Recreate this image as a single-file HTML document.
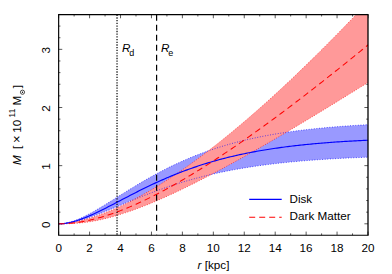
<!DOCTYPE html>
<html><head><meta charset="utf-8"><style>
html,body{margin:0;padding:0;background:#fff;}
svg{display:block;}
text{font-family:"Liberation Sans",sans-serif;font-size:11.7px;fill:#000;}
</style></head><body>
<svg width="392" height="274" viewBox="0 0 392 274">
<rect width="392" height="274" fill="#fff"/>
<clipPath id="c"><rect x="58.65" y="14.67" width="309.35" height="220.53"/></clipPath>
<path d="M58.65,235.20 v-3.60 M58.65,14.67 v3.60 M74.12,235.20 v-1.80 M74.12,14.67 v1.80 M89.59,235.20 v-3.60 M89.59,14.67 v3.60 M105.05,235.20 v-1.80 M105.05,14.67 v1.80 M120.52,235.20 v-3.60 M120.52,14.67 v3.60 M135.99,235.20 v-1.80 M135.99,14.67 v1.80 M151.46,235.20 v-3.60 M151.46,14.67 v3.60 M166.92,235.20 v-1.80 M166.92,14.67 v1.80 M182.39,235.20 v-3.60 M182.39,14.67 v3.60 M197.86,235.20 v-1.80 M197.86,14.67 v1.80 M213.33,235.20 v-3.60 M213.33,14.67 v3.60 M228.79,235.20 v-1.80 M228.79,14.67 v1.80 M244.26,235.20 v-3.60 M244.26,14.67 v3.60 M259.73,235.20 v-1.80 M259.73,14.67 v1.80 M275.19,235.20 v-3.60 M275.19,14.67 v3.60 M290.66,235.20 v-1.80 M290.66,14.67 v1.80 M306.13,235.20 v-3.60 M306.13,14.67 v3.60 M321.60,235.20 v-1.80 M321.60,14.67 v1.80 M337.06,235.20 v-3.60 M337.06,14.67 v3.60 M352.53,235.20 v-1.80 M352.53,14.67 v1.80 M368.00,235.20 v-3.60 M368.00,14.67 v3.60 M58.65,223.80 h3.60 M368.00,223.80 h-3.60 M58.65,212.17 h1.80 M368.00,212.17 h-1.80 M58.65,200.54 h1.80 M368.00,200.54 h-1.80 M58.65,188.91 h1.80 M368.00,188.91 h-1.80 M58.65,177.28 h1.80 M368.00,177.28 h-1.80 M58.65,165.65 h3.60 M368.00,165.65 h-3.60 M58.65,154.02 h1.80 M368.00,154.02 h-1.80 M58.65,142.39 h1.80 M368.00,142.39 h-1.80 M58.65,130.76 h1.80 M368.00,130.76 h-1.80 M58.65,119.13 h1.80 M368.00,119.13 h-1.80 M58.65,107.50 h3.60 M368.00,107.50 h-3.60 M58.65,95.87 h1.80 M368.00,95.87 h-1.80 M58.65,84.24 h1.80 M368.00,84.24 h-1.80 M58.65,72.61 h1.80 M368.00,72.61 h-1.80 M58.65,60.98 h1.80 M368.00,60.98 h-1.80 M58.65,49.35 h3.60 M368.00,49.35 h-3.60 M58.65,37.72 h1.80 M368.00,37.72 h-1.80 M58.65,26.09 h1.80 M368.00,26.09 h-1.80 M58.65,14.46 h1.80 M368.00,14.46 h-1.80" stroke="#000" stroke-width="0.65" fill="none"/>
<g clip-path="url(#c)">
<polygon points="58.60,223.80 60.15,223.76 61.70,223.66 63.25,223.49 64.79,223.26 66.34,222.97 67.89,222.63 69.44,222.24 70.99,221.80 72.54,221.31 74.09,220.79 75.63,220.22 77.18,219.62 78.73,218.98 80.28,218.31 81.83,217.61 83.38,216.88 84.92,216.12 86.47,215.35 88.02,214.55 89.57,213.73 91.12,212.89 92.67,212.03 94.22,211.16 95.76,210.27 97.31,209.37 98.86,208.46 100.41,207.54 101.96,206.61 103.51,205.67 105.06,204.72 106.60,203.77 108.15,202.81 109.70,201.85 111.25,200.89 112.80,199.92 114.35,198.95 115.89,197.98 117.44,197.01 118.99,196.04 120.54,195.07 122.09,194.10 123.64,193.13 125.19,192.17 126.73,191.21 128.28,190.25 129.83,189.30 131.38,188.35 132.93,187.40 134.48,186.46 136.03,185.53 137.57,184.60 139.12,183.68 140.67,182.76 142.22,181.85 143.77,180.95 145.32,180.06 146.86,179.17 148.41,178.29 149.96,177.42 151.51,176.55 153.06,175.70 154.61,174.85 156.16,174.01 157.70,173.17 159.25,172.35 160.80,171.54 162.35,170.73 163.90,169.93 165.45,169.14 167.00,168.36 168.54,167.59 170.09,166.83 171.64,166.08 173.19,165.33 174.74,164.60 176.29,163.87 177.83,163.16 179.38,162.45 180.93,161.75 182.48,161.06 184.03,160.38 185.58,159.71 187.13,159.04 188.67,158.39 190.22,157.74 191.77,157.11 193.32,156.48 194.87,155.86 196.42,155.25 197.97,154.65 199.51,154.06 201.06,153.47 202.61,152.90 204.16,152.33 205.71,151.77 207.26,151.22 208.80,150.68 210.35,150.15 211.90,149.62 213.45,149.10 215.00,148.59 216.55,148.09 218.10,147.59 219.64,147.11 221.19,146.63 222.74,146.16 224.29,145.69 225.84,145.24 227.39,144.79 228.93,144.34 230.48,143.91 232.03,143.48 233.58,143.06 235.13,142.65 236.68,142.24 238.23,141.84 239.77,141.45 241.32,141.06 242.87,140.68 244.42,140.30 245.97,139.93 247.52,139.57 249.07,139.22 250.61,138.87 252.16,138.52 253.71,138.19 255.26,137.85 256.81,137.53 258.36,137.21 259.91,136.89 261.45,136.58 263.00,136.28 264.55,135.98 266.10,135.69 267.65,135.40 269.20,135.12 270.74,134.84 272.29,134.56 273.84,134.30 275.39,134.03 276.94,133.77 278.49,133.52 280.04,133.27 281.58,133.03 283.13,132.79 284.68,132.55 286.23,132.32 287.78,132.09 289.33,131.87 290.88,131.65 292.42,131.43 293.97,131.22 295.52,131.01 297.07,130.81 298.62,130.61 300.17,130.42 301.71,130.22 303.26,130.03 304.81,129.85 306.36,129.67 307.91,129.49 309.46,129.31 311.01,129.14 312.55,128.97 314.10,128.81 315.65,128.65 317.20,128.49 318.75,128.33 320.30,128.18 321.85,128.03 323.39,127.88 324.94,127.74 326.49,127.60 328.04,127.46 329.59,127.32 331.14,127.19 332.68,127.06 334.23,126.93 335.78,126.80 337.33,126.68 338.88,126.56 340.43,126.44 341.98,126.33 343.52,126.21 345.07,126.10 346.62,125.99 348.17,125.88 349.72,125.78 351.27,125.67 352.81,125.57 354.36,125.47 355.91,125.38 357.46,125.28 359.01,125.19 360.56,125.10 362.11,125.01 363.65,124.92 365.20,124.83 366.75,124.75 368.30,124.67 368.30,157.17 366.75,157.23 365.20,157.29 363.65,157.34 362.11,157.40 360.56,157.47 359.01,157.53 357.46,157.59 355.91,157.66 354.36,157.72 352.81,157.79 351.27,157.86 349.72,157.93 348.17,158.01 346.62,158.08 345.07,158.15 343.52,158.23 341.98,158.31 340.43,158.39 338.88,158.47 337.33,158.55 335.78,158.64 334.23,158.72 332.68,158.81 331.14,158.90 329.59,158.99 328.04,159.09 326.49,159.18 324.94,159.28 323.39,159.38 321.85,159.48 320.30,159.58 318.75,159.69 317.20,159.80 315.65,159.91 314.10,160.02 312.55,160.13 311.01,160.25 309.46,160.36 307.91,160.48 306.36,160.61 304.81,160.73 303.26,160.86 301.71,160.99 300.17,161.12 298.62,161.26 297.07,161.39 295.52,161.53 293.97,161.68 292.42,161.82 290.88,161.97 289.33,162.12 287.78,162.27 286.23,162.43 284.68,162.59 283.13,162.75 281.58,162.92 280.04,163.08 278.49,163.26 276.94,163.43 275.39,163.61 273.84,163.79 272.29,163.98 270.74,164.16 269.20,164.35 267.65,164.55 266.10,164.75 264.55,164.95 263.00,165.15 261.45,165.36 259.91,165.58 258.36,165.79 256.81,166.01 255.26,166.24 253.71,166.47 252.16,166.70 250.61,166.94 249.07,167.18 247.52,167.42 245.97,167.67 244.42,167.92 242.87,168.18 241.32,168.44 239.77,168.71 238.23,168.98 236.68,169.26 235.13,169.54 233.58,169.82 232.03,170.11 230.48,170.40 228.93,170.70 227.39,171.01 225.84,171.32 224.29,171.63 222.74,171.95 221.19,172.27 219.64,172.60 218.10,172.94 216.55,173.28 215.00,173.62 213.45,173.97 211.90,174.33 210.35,174.69 208.80,175.06 207.26,175.43 205.71,175.81 204.16,176.19 202.61,176.58 201.06,176.98 199.51,177.38 197.97,177.78 196.42,178.20 194.87,178.61 193.32,179.04 191.77,179.47 190.22,179.90 188.67,180.35 187.13,180.79 185.58,181.25 184.03,181.71 182.48,182.17 180.93,182.64 179.38,183.12 177.83,183.61 176.29,184.10 174.74,184.59 173.19,185.09 171.64,185.60 170.09,186.11 168.54,186.63 167.00,187.16 165.45,187.69 163.90,188.23 162.35,188.77 160.80,189.32 159.25,189.87 157.70,190.43 156.16,191.00 154.61,191.57 153.06,192.14 151.51,192.72 149.96,193.31 148.41,193.90 146.86,194.50 145.32,195.10 143.77,195.70 142.22,196.31 140.67,196.92 139.12,197.54 137.57,198.16 136.03,198.79 134.48,199.41 132.93,200.04 131.38,200.68 129.83,201.31 128.28,201.95 126.73,202.59 125.19,203.24 123.64,203.88 122.09,204.52 120.54,205.17 118.99,205.81 117.44,206.46 115.89,207.10 114.35,207.75 112.80,208.39 111.25,209.03 109.70,209.67 108.15,210.30 106.60,210.93 105.06,211.56 103.51,212.18 101.96,212.79 100.41,213.40 98.86,214.00 97.31,214.60 95.76,215.18 94.22,215.76 92.67,216.32 91.12,216.87 89.57,217.42 88.02,217.95 86.47,218.46 84.92,218.96 83.38,219.44 81.83,219.91 80.28,220.35 78.73,220.78 77.18,221.18 75.63,221.56 74.09,221.92 72.54,222.25 70.99,222.56 69.44,222.83 67.89,223.08 66.34,223.29 64.79,223.47 63.25,223.61 61.70,223.71 60.15,223.78 58.60,223.80" fill="#9999ff"/>
<polygon points="58.60,223.80 60.15,223.76 61.70,223.68 63.25,223.57 64.79,223.42 66.34,223.25 67.89,223.06 69.44,222.83 70.99,222.59 72.54,222.33 74.09,222.04 75.63,221.74 77.18,221.41 78.73,221.07 80.28,220.71 81.83,220.33 83.38,219.94 84.92,219.52 86.47,219.10 88.02,218.65 89.57,218.19 91.12,217.72 92.67,217.23 94.22,216.73 95.76,216.21 97.31,215.68 98.86,215.13 100.41,214.57 101.96,214.00 103.51,213.41 105.06,212.81 106.60,212.20 108.15,211.58 109.70,210.94 111.25,210.30 112.80,209.64 114.35,208.97 115.89,208.28 117.44,207.59 118.99,206.88 120.54,206.17 122.09,205.44 123.64,204.70 125.19,203.95 126.73,203.19 128.28,202.42 129.83,201.64 131.38,200.85 132.93,200.05 134.48,199.24 136.03,198.42 137.57,197.59 139.12,196.75 140.67,195.90 142.22,195.04 143.77,194.17 145.32,193.30 146.86,192.41 148.41,191.51 149.96,190.61 151.51,189.70 153.06,188.78 154.61,187.85 156.16,186.91 157.70,185.96 159.25,185.01 160.80,184.04 162.35,183.07 163.90,182.09 165.45,181.10 167.00,180.11 168.54,179.10 170.09,178.09 171.64,177.07 173.19,176.04 174.74,175.01 176.29,173.97 177.83,172.92 179.38,171.86 180.93,170.79 182.48,169.72 184.03,168.64 185.58,167.56 187.13,166.46 188.67,165.36 190.22,164.26 191.77,163.14 193.32,162.02 194.87,160.89 196.42,159.76 197.97,158.62 199.51,157.47 201.06,156.32 202.61,155.16 204.16,153.99 205.71,152.81 207.26,151.63 208.80,150.45 210.35,149.26 211.90,148.06 213.45,146.85 215.00,145.64 216.55,144.42 218.10,143.20 219.64,141.97 221.19,140.74 222.74,139.50 224.29,138.25 225.84,137.00 227.39,135.74 228.93,134.48 230.48,133.21 232.03,131.93 233.58,130.65 235.13,129.36 236.68,128.07 238.23,126.78 239.77,125.47 241.32,124.17 242.87,122.85 244.42,121.53 245.97,120.21 247.52,118.88 249.07,117.55 250.61,116.21 252.16,114.86 253.71,113.52 255.26,112.16 256.81,110.80 258.36,109.44 259.91,108.07 261.45,106.69 263.00,105.31 264.55,103.93 266.10,102.54 267.65,101.15 269.20,99.75 270.74,98.35 272.29,96.94 273.84,95.53 275.39,94.11 276.94,92.69 278.49,91.27 280.04,89.84 281.58,88.40 283.13,86.96 284.68,85.52 286.23,84.07 287.78,82.62 289.33,81.16 290.88,79.70 292.42,78.23 293.97,76.77 295.52,75.29 297.07,73.81 298.62,72.33 300.17,70.85 301.71,69.36 303.26,67.86 304.81,66.36 306.36,64.86 307.91,63.35 309.46,61.84 311.01,60.33 312.55,58.81 314.10,57.29 315.65,55.76 317.20,54.23 318.75,52.70 320.30,51.16 321.85,49.62 323.39,48.07 324.94,46.52 326.49,44.97 328.04,43.41 329.59,41.85 331.14,40.29 332.68,38.72 334.23,37.15 335.78,35.58 337.33,34.00 338.88,32.42 340.43,30.83 341.98,29.24 343.52,27.65 345.07,26.05 346.62,24.46 348.17,22.85 349.72,21.25 351.27,19.64 352.81,18.02 354.36,16.41 355.91,14.79 357.46,13.17 359.01,11.54 360.56,9.91 362.11,8.28 363.65,6.64 365.20,5.00 366.75,3.36 368.30,1.71 368.30,82.26 366.75,83.23 365.20,84.19 363.65,85.16 362.11,86.13 360.56,87.09 359.01,88.06 357.46,89.02 355.91,89.99 354.36,90.95 352.81,91.91 351.27,92.87 349.72,93.83 348.17,94.79 346.62,95.75 345.07,96.71 343.52,97.66 341.98,98.62 340.43,99.57 338.88,100.53 337.33,101.48 335.78,102.43 334.23,103.38 332.68,104.34 331.14,105.28 329.59,106.23 328.04,107.18 326.49,108.13 324.94,109.07 323.39,110.02 321.85,110.96 320.30,111.90 318.75,112.84 317.20,113.78 315.65,114.72 314.10,115.66 312.55,116.60 311.01,117.53 309.46,118.47 307.91,119.40 306.36,120.33 304.81,121.26 303.26,122.19 301.71,123.12 300.17,124.05 298.62,124.98 297.07,125.90 295.52,126.82 293.97,127.75 292.42,128.67 290.88,129.59 289.33,130.51 287.78,131.42 286.23,132.34 284.68,133.25 283.13,134.16 281.58,135.08 280.04,135.99 278.49,136.89 276.94,137.80 275.39,138.71 273.84,139.61 272.29,140.51 270.74,141.41 269.20,142.31 267.65,143.21 266.10,144.10 264.55,145.00 263.00,145.89 261.45,146.78 259.91,147.67 258.36,148.55 256.81,149.44 255.26,150.32 253.71,151.20 252.16,152.08 250.61,152.96 249.07,153.83 247.52,154.71 245.97,155.58 244.42,156.45 242.87,157.31 241.32,158.18 239.77,159.04 238.23,159.90 236.68,160.76 235.13,161.61 233.58,162.47 232.03,163.32 230.48,164.17 228.93,165.01 227.39,165.86 225.84,166.70 224.29,167.54 222.74,168.37 221.19,169.21 219.64,170.04 218.10,170.86 216.55,171.69 215.00,172.51 213.45,173.33 211.90,174.15 210.35,174.96 208.80,175.77 207.26,176.58 205.71,177.38 204.16,178.18 202.61,178.98 201.06,179.77 199.51,180.57 197.97,181.35 196.42,182.14 194.87,182.92 193.32,183.69 191.77,184.47 190.22,185.24 188.67,186.00 187.13,186.76 185.58,187.52 184.03,188.27 182.48,189.02 180.93,189.77 179.38,190.51 177.83,191.24 176.29,191.97 174.74,192.70 173.19,193.42 171.64,194.14 170.09,194.85 168.54,195.56 167.00,196.26 165.45,196.96 163.90,197.65 162.35,198.34 160.80,199.02 159.25,199.70 157.70,200.37 156.16,201.03 154.61,201.69 153.06,202.34 151.51,202.99 149.96,203.63 148.41,204.26 146.86,204.88 145.32,205.50 143.77,206.12 142.22,206.72 140.67,207.32 139.12,207.91 137.57,208.49 136.03,209.07 134.48,209.64 132.93,210.20 131.38,210.75 129.83,211.29 128.28,211.82 126.73,212.35 125.19,212.87 123.64,213.37 122.09,213.87 120.54,214.36 118.99,214.84 117.44,215.31 115.89,215.76 114.35,216.21 112.80,216.65 111.25,217.08 109.70,217.49 108.15,217.89 106.60,218.29 105.06,218.66 103.51,219.03 101.96,219.39 100.41,219.73 98.86,220.06 97.31,220.38 95.76,220.68 94.22,220.97 92.67,221.25 91.12,221.51 89.57,221.76 88.02,221.99 86.47,222.21 84.92,222.42 83.38,222.61 81.83,222.78 80.28,222.94 78.73,223.09 77.18,223.22 75.63,223.33 74.09,223.44 72.54,223.52 70.99,223.60 69.44,223.66 67.89,223.71 66.34,223.74 64.79,223.77 63.25,223.79 61.70,223.80 60.15,223.80 58.60,223.80" fill="#ff9999"/>
<path d="M58.60,223.80 L60.15,223.76 L61.70,223.66 L63.25,223.49 L64.79,223.26 L66.34,222.97 L67.89,222.63 L69.44,222.24 L70.99,221.80 L72.54,221.31 L74.09,220.79 L75.63,220.22 L77.18,219.62 L78.73,218.98 L80.28,218.31 L81.83,217.61 L83.38,216.88 L84.92,216.12 L86.47,215.35 L88.02,214.55 L89.57,213.73 L91.12,212.89 L92.67,212.03 L94.22,211.16 L95.76,210.27 L97.31,209.37 L98.86,208.46 L100.41,207.54 L101.96,206.61 L103.51,205.67 L105.06,204.72 L106.60,203.77 L108.15,202.81 L109.70,201.85 L111.25,200.89 L112.80,199.92 L114.35,198.95 L115.89,197.98 L117.44,197.01 L118.99,196.04 L120.54,195.07 L122.09,194.10 L123.64,193.13 L125.19,192.17 L126.73,191.21 L128.28,190.25 L129.83,189.30 L131.38,188.35 L132.93,187.40 L134.48,186.46 L136.03,185.53 L137.57,184.60 L139.12,183.68 L140.67,182.76 L142.22,181.85 L143.77,180.95 L145.32,180.06 L146.86,179.17 L148.41,178.29 L149.96,177.42 L151.51,176.55 L153.06,175.70 L154.61,174.85 L156.16,174.01 L157.70,173.17 L159.25,172.35 L160.80,171.54 L162.35,170.73 L163.90,169.93 L165.45,169.14 L167.00,168.36 L168.54,167.59 L170.09,166.83 L171.64,166.08 L173.19,165.33 L174.74,164.60 L176.29,163.87 L177.83,163.16 L179.38,162.45 L180.93,161.75 L182.48,161.06 L184.03,160.38 L185.58,159.71 L187.13,159.04 L188.67,158.39 L190.22,157.74 L191.77,157.11 L193.32,156.48 L194.87,155.86 L196.42,155.25 L197.97,154.65 L199.51,154.06 L201.06,153.47 L202.61,152.90 L204.16,152.33 L205.71,151.77 L207.26,151.22 L208.80,150.68 L210.35,150.15 L211.90,149.62 L213.45,149.10 L215.00,148.59 L216.55,148.09 L218.10,147.59 L219.64,147.11 L221.19,146.63 L222.74,146.16 L224.29,145.69 L225.84,145.24 L227.39,144.79 L228.93,144.34 L230.48,143.91 L232.03,143.48 L233.58,143.06 L235.13,142.65 L236.68,142.24 L238.23,141.84 L239.77,141.45 L241.32,141.06 L242.87,140.68 L244.42,140.30 L245.97,139.93 L247.52,139.57 L249.07,139.22 L250.61,138.87 L252.16,138.52 L253.71,138.19 L255.26,137.85 L256.81,137.53 L258.36,137.21 L259.91,136.89 L261.45,136.58 L263.00,136.28 L264.55,135.98 L266.10,135.69 L267.65,135.40 L269.20,135.12 L270.74,134.84 L272.29,134.56 L273.84,134.30 L275.39,134.03 L276.94,133.77 L278.49,133.52 L280.04,133.27 L281.58,133.03 L283.13,132.79 L284.68,132.55 L286.23,132.32 L287.78,132.09 L289.33,131.87 L290.88,131.65 L292.42,131.43 L293.97,131.22 L295.52,131.01 L297.07,130.81 L298.62,130.61 L300.17,130.42 L301.71,130.22 L303.26,130.03 L304.81,129.85 L306.36,129.67 L307.91,129.49 L309.46,129.31 L311.01,129.14 L312.55,128.97 L314.10,128.81 L315.65,128.65 L317.20,128.49 L318.75,128.33 L320.30,128.18 L321.85,128.03 L323.39,127.88 L324.94,127.74 L326.49,127.60 L328.04,127.46 L329.59,127.32 L331.14,127.19 L332.68,127.06 L334.23,126.93 L335.78,126.80 L337.33,126.68 L338.88,126.56 L340.43,126.44 L341.98,126.33 L343.52,126.21 L345.07,126.10 L346.62,125.99 L348.17,125.88 L349.72,125.78 L351.27,125.67 L352.81,125.57 L354.36,125.47 L355.91,125.38 L357.46,125.28 L359.01,125.19 L360.56,125.10 L362.11,125.01 L363.65,124.92 L365.20,124.83 L366.75,124.75 L368.30,124.67" fill="none" stroke="#0000ff" stroke-width="0.8" stroke-dasharray="0.9 1.7" stroke-opacity="0.85"/>
<path d="M58.60,223.80 L60.15,223.78 L61.70,223.71 L63.25,223.61 L64.79,223.47 L66.34,223.29 L67.89,223.08 L69.44,222.83 L70.99,222.56 L72.54,222.25 L74.09,221.92 L75.63,221.56 L77.18,221.18 L78.73,220.78 L80.28,220.35 L81.83,219.91 L83.38,219.44 L84.92,218.96 L86.47,218.46 L88.02,217.95 L89.57,217.42 L91.12,216.87 L92.67,216.32 L94.22,215.76 L95.76,215.18 L97.31,214.60 L98.86,214.00 L100.41,213.40 L101.96,212.79 L103.51,212.18 L105.06,211.56 L106.60,210.93 L108.15,210.30 L109.70,209.67 L111.25,209.03 L112.80,208.39 L114.35,207.75 L115.89,207.10 L117.44,206.46 L118.99,205.81 L120.54,205.17 L122.09,204.52 L123.64,203.88 L125.19,203.24 L126.73,202.59 L128.28,201.95 L129.83,201.31 L131.38,200.68 L132.93,200.04 L134.48,199.41 L136.03,198.79 L137.57,198.16 L139.12,197.54 L140.67,196.92 L142.22,196.31 L143.77,195.70 L145.32,195.10 L146.86,194.50 L148.41,193.90 L149.96,193.31 L151.51,192.72 L153.06,192.14 L154.61,191.57 L156.16,191.00 L157.70,190.43 L159.25,189.87 L160.80,189.32 L162.35,188.77 L163.90,188.23 L165.45,187.69 L167.00,187.16 L168.54,186.63 L170.09,186.11 L171.64,185.60 L173.19,185.09 L174.74,184.59 L176.29,184.10 L177.83,183.61 L179.38,183.12 L180.93,182.64 L182.48,182.17 L184.03,181.71 L185.58,181.25 L187.13,180.79 L188.67,180.35 L190.22,179.90 L191.77,179.47 L193.32,179.04 L194.87,178.61 L196.42,178.20 L197.97,177.78 L199.51,177.38 L201.06,176.98 L202.61,176.58 L204.16,176.19 L205.71,175.81 L207.26,175.43 L208.80,175.06 L210.35,174.69 L211.90,174.33 L213.45,173.97 L215.00,173.62 L216.55,173.28 L218.10,172.94 L219.64,172.60 L221.19,172.27 L222.74,171.95 L224.29,171.63 L225.84,171.32 L227.39,171.01 L228.93,170.70 L230.48,170.40 L232.03,170.11 L233.58,169.82 L235.13,169.54 L236.68,169.26 L238.23,168.98 L239.77,168.71 L241.32,168.44 L242.87,168.18 L244.42,167.92 L245.97,167.67 L247.52,167.42 L249.07,167.18 L250.61,166.94 L252.16,166.70 L253.71,166.47 L255.26,166.24 L256.81,166.01 L258.36,165.79 L259.91,165.58 L261.45,165.36 L263.00,165.15 L264.55,164.95 L266.10,164.75 L267.65,164.55 L269.20,164.35 L270.74,164.16 L272.29,163.98 L273.84,163.79 L275.39,163.61 L276.94,163.43 L278.49,163.26 L280.04,163.08 L281.58,162.92 L283.13,162.75 L284.68,162.59 L286.23,162.43 L287.78,162.27 L289.33,162.12 L290.88,161.97 L292.42,161.82 L293.97,161.68 L295.52,161.53 L297.07,161.39 L298.62,161.26 L300.17,161.12 L301.71,160.99 L303.26,160.86 L304.81,160.73 L306.36,160.61 L307.91,160.48 L309.46,160.36 L311.01,160.25 L312.55,160.13 L314.10,160.02 L315.65,159.91 L317.20,159.80 L318.75,159.69 L320.30,159.58 L321.85,159.48 L323.39,159.38 L324.94,159.28 L326.49,159.18 L328.04,159.09 L329.59,158.99 L331.14,158.90 L332.68,158.81 L334.23,158.72 L335.78,158.64 L337.33,158.55 L338.88,158.47 L340.43,158.39 L341.98,158.31 L343.52,158.23 L345.07,158.15 L346.62,158.08 L348.17,158.01 L349.72,157.93 L351.27,157.86 L352.81,157.79 L354.36,157.72 L355.91,157.66 L357.46,157.59 L359.01,157.53 L360.56,157.47 L362.11,157.40 L363.65,157.34 L365.20,157.29 L366.75,157.23 L368.30,157.17" fill="none" stroke="#0000ff" stroke-width="0.8" stroke-dasharray="0.9 1.7" stroke-opacity="0.85"/>
<path d="M58.60,223.80 L60.15,223.76 L61.70,223.68 L63.25,223.57 L64.79,223.42 L66.34,223.25 L67.89,223.06 L69.44,222.83 L70.99,222.59 L72.54,222.33 L74.09,222.04 L75.63,221.74 L77.18,221.41 L78.73,221.07 L80.28,220.71 L81.83,220.33 L83.38,219.94 L84.92,219.52 L86.47,219.10 L88.02,218.65 L89.57,218.19 L91.12,217.72 L92.67,217.23 L94.22,216.73 L95.76,216.21 L97.31,215.68 L98.86,215.13 L100.41,214.57 L101.96,214.00 L103.51,213.41 L105.06,212.81 L106.60,212.20 L108.15,211.58 L109.70,210.94 L111.25,210.30 L112.80,209.64 L114.35,208.97 L115.89,208.28 L117.44,207.59 L118.99,206.88 L120.54,206.17 L122.09,205.44 L123.64,204.70 L125.19,203.95 L126.73,203.19 L128.28,202.42 L129.83,201.64 L131.38,200.85 L132.93,200.05 L134.48,199.24 L136.03,198.42 L137.57,197.59 L139.12,196.75 L140.67,195.90 L142.22,195.04 L143.77,194.17 L145.32,193.30 L146.86,192.41 L148.41,191.51 L149.96,190.61 L151.51,189.70 L153.06,188.78 L154.61,187.85 L156.16,186.91 L157.70,185.96 L159.25,185.01 L160.80,184.04 L162.35,183.07 L163.90,182.09 L165.45,181.10 L167.00,180.11 L168.54,179.10 L170.09,178.09 L171.64,177.07 L173.19,176.04 L174.74,175.01 L176.29,173.97 L177.83,172.92 L179.38,171.86 L180.93,170.79 L182.48,169.72 L184.03,168.64 L185.58,167.56 L187.13,166.46 L188.67,165.36 L190.22,164.26 L191.77,163.14 L193.32,162.02 L194.87,160.89 L196.42,159.76 L197.97,158.62 L199.51,157.47 L201.06,156.32 L202.61,155.16 L204.16,153.99 L205.71,152.81 L207.26,151.63 L208.80,150.45 L210.35,149.26 L211.90,148.06 L213.45,146.85 L215.00,145.64 L216.55,144.42 L218.10,143.20 L219.64,141.97 L221.19,140.74 L222.74,139.50 L224.29,138.25 L225.84,137.00 L227.39,135.74 L228.93,134.48 L230.48,133.21 L232.03,131.93 L233.58,130.65 L235.13,129.36 L236.68,128.07 L238.23,126.78 L239.77,125.47 L241.32,124.17 L242.87,122.85 L244.42,121.53 L245.97,120.21 L247.52,118.88 L249.07,117.55 L250.61,116.21 L252.16,114.86 L253.71,113.52 L255.26,112.16 L256.81,110.80 L258.36,109.44 L259.91,108.07 L261.45,106.69 L263.00,105.31 L264.55,103.93 L266.10,102.54 L267.65,101.15 L269.20,99.75 L270.74,98.35 L272.29,96.94 L273.84,95.53 L275.39,94.11 L276.94,92.69 L278.49,91.27 L280.04,89.84 L281.58,88.40 L283.13,86.96 L284.68,85.52 L286.23,84.07 L287.78,82.62 L289.33,81.16 L290.88,79.70 L292.42,78.23 L293.97,76.77 L295.52,75.29 L297.07,73.81 L298.62,72.33 L300.17,70.85 L301.71,69.36 L303.26,67.86 L304.81,66.36 L306.36,64.86 L307.91,63.35 L309.46,61.84 L311.01,60.33 L312.55,58.81 L314.10,57.29 L315.65,55.76 L317.20,54.23 L318.75,52.70 L320.30,51.16 L321.85,49.62 L323.39,48.07 L324.94,46.52 L326.49,44.97 L328.04,43.41 L329.59,41.85 L331.14,40.29 L332.68,38.72 L334.23,37.15 L335.78,35.58 L337.33,34.00 L338.88,32.42 L340.43,30.83 L341.98,29.24 L343.52,27.65 L345.07,26.05 L346.62,24.46 L348.17,22.85 L349.72,21.25 L351.27,19.64 L352.81,18.02 L354.36,16.41 L355.91,14.79 L357.46,13.17 L359.01,11.54 L360.56,9.91 L362.11,8.28 L363.65,6.64 L365.20,5.00 L366.75,3.36 L368.30,1.71" fill="none" stroke="#ff0000" stroke-width="0.8" stroke-dasharray="0.9 1.7" stroke-opacity="0.85"/>
<path d="M58.60,223.80 L60.15,223.80 L61.70,223.80 L63.25,223.79 L64.79,223.77 L66.34,223.74 L67.89,223.71 L69.44,223.66 L70.99,223.60 L72.54,223.52 L74.09,223.44 L75.63,223.33 L77.18,223.22 L78.73,223.09 L80.28,222.94 L81.83,222.78 L83.38,222.61 L84.92,222.42 L86.47,222.21 L88.02,221.99 L89.57,221.76 L91.12,221.51 L92.67,221.25 L94.22,220.97 L95.76,220.68 L97.31,220.38 L98.86,220.06 L100.41,219.73 L101.96,219.39 L103.51,219.03 L105.06,218.66 L106.60,218.29 L108.15,217.89 L109.70,217.49 L111.25,217.08 L112.80,216.65 L114.35,216.21 L115.89,215.76 L117.44,215.31 L118.99,214.84 L120.54,214.36 L122.09,213.87 L123.64,213.37 L125.19,212.87 L126.73,212.35 L128.28,211.82 L129.83,211.29 L131.38,210.75 L132.93,210.20 L134.48,209.64 L136.03,209.07 L137.57,208.49 L139.12,207.91 L140.67,207.32 L142.22,206.72 L143.77,206.12 L145.32,205.50 L146.86,204.88 L148.41,204.26 L149.96,203.63 L151.51,202.99 L153.06,202.34 L154.61,201.69 L156.16,201.03 L157.70,200.37 L159.25,199.70 L160.80,199.02 L162.35,198.34 L163.90,197.65 L165.45,196.96 L167.00,196.26 L168.54,195.56 L170.09,194.85 L171.64,194.14 L173.19,193.42 L174.74,192.70 L176.29,191.97 L177.83,191.24 L179.38,190.51 L180.93,189.77 L182.48,189.02 L184.03,188.27 L185.58,187.52 L187.13,186.76 L188.67,186.00 L190.22,185.24 L191.77,184.47 L193.32,183.69 L194.87,182.92 L196.42,182.14 L197.97,181.35 L199.51,180.57 L201.06,179.77 L202.61,178.98 L204.16,178.18 L205.71,177.38 L207.26,176.58 L208.80,175.77 L210.35,174.96 L211.90,174.15 L213.45,173.33 L215.00,172.51 L216.55,171.69 L218.10,170.86 L219.64,170.04 L221.19,169.21 L222.74,168.37 L224.29,167.54 L225.84,166.70 L227.39,165.86 L228.93,165.01 L230.48,164.17 L232.03,163.32 L233.58,162.47 L235.13,161.61 L236.68,160.76 L238.23,159.90 L239.77,159.04 L241.32,158.18 L242.87,157.31 L244.42,156.45 L245.97,155.58 L247.52,154.71 L249.07,153.83 L250.61,152.96 L252.16,152.08 L253.71,151.20 L255.26,150.32 L256.81,149.44 L258.36,148.55 L259.91,147.67 L261.45,146.78 L263.00,145.89 L264.55,145.00 L266.10,144.10 L267.65,143.21 L269.20,142.31 L270.74,141.41 L272.29,140.51 L273.84,139.61 L275.39,138.71 L276.94,137.80 L278.49,136.89 L280.04,135.99 L281.58,135.08 L283.13,134.16 L284.68,133.25 L286.23,132.34 L287.78,131.42 L289.33,130.51 L290.88,129.59 L292.42,128.67 L293.97,127.75 L295.52,126.82 L297.07,125.90 L298.62,124.98 L300.17,124.05 L301.71,123.12 L303.26,122.19 L304.81,121.26 L306.36,120.33 L307.91,119.40 L309.46,118.47 L311.01,117.53 L312.55,116.60 L314.10,115.66 L315.65,114.72 L317.20,113.78 L318.75,112.84 L320.30,111.90 L321.85,110.96 L323.39,110.02 L324.94,109.07 L326.49,108.13 L328.04,107.18 L329.59,106.23 L331.14,105.28 L332.68,104.34 L334.23,103.38 L335.78,102.43 L337.33,101.48 L338.88,100.53 L340.43,99.57 L341.98,98.62 L343.52,97.66 L345.07,96.71 L346.62,95.75 L348.17,94.79 L349.72,93.83 L351.27,92.87 L352.81,91.91 L354.36,90.95 L355.91,89.99 L357.46,89.02 L359.01,88.06 L360.56,87.09 L362.11,86.13 L363.65,85.16 L365.20,84.19 L366.75,83.23 L368.30,82.26" fill="none" stroke="#ff0000" stroke-width="0.8" stroke-dasharray="0.9 1.7" stroke-opacity="0.85"/>
<path d="M58.60,223.80 L60.15,223.77 L61.70,223.69 L63.25,223.56 L64.79,223.38 L66.34,223.16 L67.89,222.89 L69.44,222.59 L70.99,222.24 L72.54,221.86 L74.09,221.44 L75.63,220.99 L77.18,220.52 L78.73,220.01 L80.28,219.47 L81.83,218.91 L83.38,218.33 L84.92,217.73 L86.47,217.10 L88.02,216.45 L89.57,215.79 L91.12,215.11 L92.67,214.42 L94.22,213.71 L95.76,212.98 L97.31,212.25 L98.86,211.51 L100.41,210.75 L101.96,209.99 L103.51,209.22 L105.06,208.44 L106.60,207.65 L108.15,206.86 L109.70,206.07 L111.25,205.27 L112.80,204.46 L114.35,203.66 L115.89,202.85 L117.44,202.04 L118.99,201.23 L120.54,200.42 L122.09,199.61 L123.64,198.81 L125.19,198.00 L126.73,197.19 L128.28,196.39 L129.83,195.59 L131.38,194.79 L132.93,193.99 L134.48,193.20 L136.03,192.41 L137.57,191.63 L139.12,190.85 L140.67,190.08 L142.22,189.31 L143.77,188.54 L145.32,187.79 L146.86,187.03 L148.41,186.29 L149.96,185.54 L151.51,184.81 L153.06,184.08 L154.61,183.36 L156.16,182.64 L157.70,181.93 L159.25,181.23 L160.80,180.54 L162.35,179.85 L163.90,179.17 L165.45,178.49 L167.00,177.83 L168.54,177.17 L170.09,176.52 L171.64,175.87 L173.19,175.23 L174.74,174.60 L176.29,173.98 L177.83,173.37 L179.38,172.76 L180.93,172.16 L182.48,171.57 L184.03,170.99 L185.58,170.41 L187.13,169.84 L188.67,169.28 L190.22,168.72 L191.77,168.18 L193.32,167.64 L194.87,167.10 L196.42,166.58 L197.97,166.06 L199.51,165.55 L201.06,165.05 L202.61,164.55 L204.16,164.07 L205.71,163.58 L207.26,163.11 L208.80,162.64 L210.35,162.18 L211.90,161.73 L213.45,161.28 L215.00,160.84 L216.55,160.41 L218.10,159.98 L219.64,159.56 L221.19,159.15 L222.74,158.74 L224.29,158.34 L225.84,157.95 L227.39,157.56 L228.93,157.18 L230.48,156.80 L232.03,156.44 L233.58,156.07 L235.13,155.72 L236.68,155.36 L238.23,155.02 L239.77,154.68 L241.32,154.34 L242.87,154.01 L244.42,153.69 L245.97,153.37 L247.52,153.06 L249.07,152.75 L250.61,152.45 L252.16,152.16 L253.71,151.86 L255.26,151.58 L256.81,151.30 L258.36,151.02 L259.91,150.75 L261.45,150.48 L263.00,150.22 L264.55,149.96 L266.10,149.71 L267.65,149.46 L269.20,149.21 L270.74,148.97 L272.29,148.74 L273.84,148.51 L275.39,148.28 L276.94,148.06 L278.49,147.84 L280.04,147.62 L281.58,147.41 L283.13,147.20 L284.68,147.00 L286.23,146.80 L287.78,146.60 L289.33,146.41 L290.88,146.22 L292.42,146.03 L293.97,145.85 L295.52,145.67 L297.07,145.50 L298.62,145.32 L300.17,145.16 L301.71,144.99 L303.26,144.83 L304.81,144.67 L306.36,144.51 L307.91,144.36 L309.46,144.21 L311.01,144.06 L312.55,143.91 L314.10,143.77 L315.65,143.63 L317.20,143.49 L318.75,143.36 L320.30,143.23 L321.85,143.10 L323.39,142.97 L324.94,142.85 L326.49,142.73 L328.04,142.61 L329.59,142.49 L331.14,142.37 L332.68,142.26 L334.23,142.15 L335.78,142.04 L337.33,141.94 L338.88,141.83 L340.43,141.73 L341.98,141.63 L343.52,141.53 L345.07,141.43 L346.62,141.34 L348.17,141.25 L349.72,141.16 L351.27,141.07 L352.81,140.98 L354.36,140.90 L355.91,140.81 L357.46,140.73 L359.01,140.65 L360.56,140.57 L362.11,140.49 L363.65,140.42 L365.20,140.34 L366.75,140.27 L368.30,140.20" fill="none" stroke="#0000ff" stroke-width="1.15"/>
<path d="M58.60,223.80 L60.15,223.79 L61.70,223.76 L63.25,223.72 L64.79,223.65 L66.34,223.56 L67.89,223.46 L69.44,223.33 L70.99,223.19 L72.54,223.03 L74.09,222.86 L75.63,222.66 L77.18,222.45 L78.73,222.22 L80.28,221.98 L81.83,221.71 L83.38,221.44 L84.92,221.14 L86.47,220.83 L88.02,220.51 L89.57,220.17 L91.12,219.82 L92.67,219.45 L94.22,219.07 L95.76,218.67 L97.31,218.26 L98.86,217.84 L100.41,217.40 L101.96,216.95 L103.51,216.49 L105.06,216.01 L106.60,215.52 L108.15,215.03 L109.70,214.51 L111.25,213.99 L112.80,213.46 L114.35,212.91 L115.89,212.35 L117.44,211.79 L118.99,211.21 L120.54,210.62 L122.09,210.02 L123.64,209.41 L125.19,208.79 L126.73,208.16 L128.28,207.52 L129.83,206.87 L131.38,206.21 L132.93,205.54 L134.48,204.86 L136.03,204.18 L137.57,203.48 L139.12,202.78 L140.67,202.06 L142.22,201.34 L143.77,200.61 L145.32,199.88 L146.86,199.13 L148.41,198.38 L149.96,197.61 L151.51,196.84 L153.06,196.07 L154.61,195.28 L156.16,194.49 L157.70,193.69 L159.25,192.88 L160.80,192.07 L162.35,191.25 L163.90,190.42 L165.45,189.59 L167.00,188.75 L168.54,187.90 L170.09,187.05 L171.64,186.19 L173.19,185.32 L174.74,184.45 L176.29,183.57 L177.83,182.68 L179.38,181.79 L180.93,180.89 L182.48,179.99 L184.03,179.08 L185.58,178.17 L187.13,177.25 L188.67,176.32 L190.22,175.39 L191.77,174.46 L193.32,173.52 L194.87,172.57 L196.42,171.62 L197.97,170.66 L199.51,169.70 L201.06,168.73 L202.61,167.76 L204.16,166.79 L205.71,165.80 L207.26,164.82 L208.80,163.83 L210.35,162.83 L211.90,161.83 L213.45,160.83 L215.00,159.82 L216.55,158.81 L218.10,157.79 L219.64,156.77 L221.19,155.75 L222.74,154.72 L224.29,153.68 L225.84,152.64 L227.39,151.60 L228.93,150.56 L230.48,149.51 L232.03,148.45 L233.58,147.40 L235.13,146.34 L236.68,145.27 L238.23,144.20 L239.77,143.13 L241.32,142.06 L242.87,140.98 L244.42,139.89 L245.97,138.81 L247.52,137.72 L249.07,136.63 L250.61,135.53 L252.16,134.43 L253.71,133.33 L255.26,132.22 L256.81,131.11 L258.36,130.00 L259.91,128.89 L261.45,127.77 L263.00,126.65 L264.55,125.52 L266.10,124.39 L267.65,123.26 L269.20,122.13 L270.74,120.99 L272.29,119.85 L273.84,118.71 L275.39,117.57 L276.94,116.42 L278.49,115.27 L280.04,114.12 L281.58,112.96 L283.13,111.80 L284.68,110.64 L286.23,109.48 L287.78,108.31 L289.33,107.14 L290.88,105.97 L292.42,104.80 L293.97,103.62 L295.52,102.44 L297.07,101.26 L298.62,100.08 L300.17,98.89 L301.71,97.71 L303.26,96.52 L304.81,95.32 L306.36,94.13 L307.91,92.93 L309.46,91.73 L311.01,90.53 L312.55,89.33 L314.10,88.12 L315.65,86.91 L317.20,85.70 L318.75,84.49 L320.30,83.28 L321.85,82.06 L323.39,80.84 L324.94,79.62 L326.49,78.40 L328.04,77.18 L329.59,75.95 L331.14,74.72 L332.68,73.49 L334.23,72.26 L335.78,71.02 L337.33,69.79 L338.88,68.55 L340.43,67.31 L341.98,66.07 L343.52,64.83 L345.07,63.58 L346.62,62.34 L348.17,61.09 L349.72,59.84 L351.27,58.59 L352.81,57.33 L354.36,56.08 L355.91,54.82 L357.46,53.56 L359.01,52.30 L360.56,51.04 L362.11,49.78 L363.65,48.51 L365.20,47.25 L366.75,45.98 L368.30,44.71" fill="none" stroke="#ff0000" stroke-width="1.05" stroke-dasharray="6 4"/>
<line x1="117.03" y1="14.67" x2="117.03" y2="235.2" stroke="#000" stroke-width="1.2" stroke-dasharray="1.3 1.4"/>
<line x1="156.6" y1="14.67" x2="156.6" y2="235.2" stroke="#000" stroke-width="1.2" stroke-dasharray="6 4"/>
</g>
<path d="M58.65,14.67 V235.2 H368 M58.65,14.67 H368" fill="none" stroke="#000" stroke-width="1.15" stroke-linecap="square"/>
<path d="M368,14.67 V235.2" fill="none" stroke="#000" stroke-width="1.3"/>
<text x="58.65" y="251.5" text-anchor="middle">0</text>
<text x="89.59" y="251.5" text-anchor="middle">2</text>
<text x="120.52" y="251.5" text-anchor="middle">4</text>
<text x="151.46" y="251.5" text-anchor="middle">6</text>
<text x="182.39" y="251.5" text-anchor="middle">8</text>
<text x="213.33" y="251.5" text-anchor="middle">10</text>
<text x="244.26" y="251.5" text-anchor="middle">12</text>
<text x="275.19" y="251.5" text-anchor="middle">14</text>
<text x="306.13" y="251.5" text-anchor="middle">16</text>
<text x="337.06" y="251.5" text-anchor="middle">18</text>
<text x="368.00" y="251.5" text-anchor="middle">20</text>
<text transform="translate(49.5,224.70) rotate(-90)" text-anchor="middle">0</text>
<text transform="translate(49.5,166.55) rotate(-90)" text-anchor="middle">1</text>
<text transform="translate(49.5,108.40) rotate(-90)" text-anchor="middle">2</text>
<text transform="translate(49.5,50.25) rotate(-90)" text-anchor="middle">3</text>
<text x="213.5" y="268.5" text-anchor="middle"><tspan font-style="italic">r</tspan> [kpc]</text>
<g transform="translate(20.7,164.7) rotate(-90)"><text x="-0.3" y="0" font-style="italic">M</text><text x="15.6" y="0">[</text><text x="21.6" y="0" style="font-size:13px">×</text><text x="31.9" y="0">10</text><text x="47.3" y="-6.2" style="font-size:8.4px">11</text><text x="59.3" y="0">M</text><circle cx="72.5" cy="1.8" r="2.1" fill="none" stroke="#000" stroke-width="0.7"/><circle cx="72.5" cy="1.8" r="0.7" fill="#000"/><text x="76.4" y="0">]</text></g>
<text x="122" y="51.8"><tspan font-style="italic">R</tspan><tspan font-size="9" dx="-1.1" dy="4.3">d</tspan></text>
<text x="161" y="51.8"><tspan font-style="italic">R</tspan><tspan font-size="9" dx="-1.1" dy="4.3">e</tspan></text>
<line x1="249.2" y1="199.3" x2="281.7" y2="199.3" stroke="#0000ff" stroke-width="1.15"/>
<line x1="249.2" y1="217.2" x2="281.7" y2="217.2" stroke="#ff0000" stroke-width="1.05" stroke-dasharray="6 4"/>
<text x="289.6" y="202.9" style="font-size:11.6px">Disk</text>
<text x="289.6" y="219.9" style="font-size:11.7px">Dark Matter</text>
</svg>
</body></html>
